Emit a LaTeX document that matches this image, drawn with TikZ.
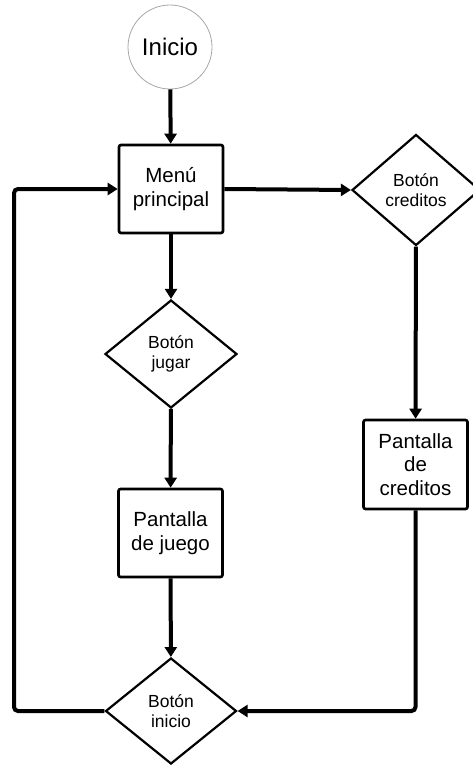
\documentclass[tikz,border=0pt]{standalone}
\usepackage{fontspec}
\setmainfont{Liberation Sans}
\usetikzlibrary{shapes.geometric,arrows.meta,positioning}

\begin{document}
\begin{tikzpicture}[
        x=1pt, y=-1pt,
        startnode/.style={circle, draw=gray!70, line width=0.8pt, minimum size=84pt, inner sep=0pt, font=\fontsize{24}{28}\selectfont},
        screen/.style={rectangle, draw, line width=2.6pt, rounded corners=2pt, minimum width=104pt, minimum height=88pt, inner sep=2pt, align=center, font=\fontsize{20.5}{23.5}\selectfont},
        button/.style={diamond, draw, line width=2.2pt, inner sep=0pt, align=center, font=\fontsize{17.5}{20}\selectfont},
        arrow/.style={-{Triangle[length=10pt,width=12pt]}, line width=4pt}
    ]
        \useasboundingbox (0,0) rectangle (473,765);

        % Start
        \node[startnode] (inicio) at (170,47) {Inicio};

        % Main menu
        \node[screen] (menu) at (171,189) {Menú\\principal};

        % Buttons
        \node[button, minimum width=128pt, minimum height=111pt] (bcreditos) at (416,190) {Botón\\creditos};
        \node[button, minimum width=132pt, minimum height=108pt] (bjugar) at (171,354) {Botón\\jugar};
        \node[button, minimum width=131pt, minimum height=106pt] (binicio) at (171,711) {Botón\\inicio};

        % Screens
        \node[screen, minimum height=88pt] (pjuego) at (170.5,533) {Pantalla\\de juego};
        \node[screen, minimum height=89pt] (pcreditos) at (415.5,464.5) {Pantalla\\de\\creditos};

        % Connections
        \draw[arrow] (inicio) -- (menu);
        \draw[arrow] (menu.east) -- (bcreditos.west);
        \draw[arrow] (menu) -- (bjugar);
        \draw[arrow] (bjugar) -- (pjuego);
        \draw[arrow] (pjuego) -- (binicio);
        \draw[arrow] (bcreditos) -- (pcreditos);

        % Loops back
        \coordinate (lft) at (14,450);
        \draw[arrow, rounded corners=4pt] (pcreditos.south) |- (binicio.east);
        \draw[arrow, rounded corners=4pt] (binicio.west) -| (lft) |- (menu.west);

    \end{tikzpicture}
\end{document}
